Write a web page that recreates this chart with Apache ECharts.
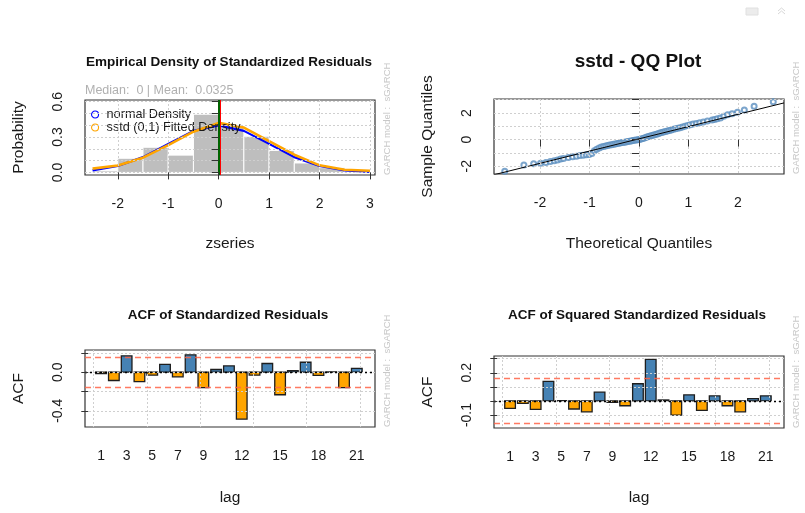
<!DOCTYPE html>
<html>
<head>
<meta charset="utf-8">
<title>GARCH fit diagnostics</title>
<script src="https://cdn.jsdelivr.net/npm/echarts@6/dist/echarts.min.js"></script>
<style>
  html, body { margin: 0; padding: 0; background: #ffffff; }
  #main { width: 805px; height: 513px; }
</style>
</head>
<body>
<div id="main"></div>
<script>
// ---- Empirical density panel ----
const histBreaks = [-2.5, -2, -1.5, -1, -0.5, 0, 0.5, 1, 1.5, 2, 2.5, 3];
const histDensity = [0.0133, 0.12, 0.2133, 0.1467, 0.4933, 0.3867, 0.3067, 0.1867, 0.08, 0.04, 0.0133];
const densityX = [-2.5, -2, -1.5, -1, -0.5, 0, 0.5, 1, 1.5, 2, 2.5, 3];
const normalDensity = [0.0175, 0.054, 0.1295, 0.242, 0.352, 0.399, 0.352, 0.242, 0.1295, 0.054, 0.0175, 0.0044];
const sstdDensity = [0.032, 0.058, 0.125, 0.232, 0.345, 0.42, 0.38, 0.265, 0.15, 0.06, 0.022, 0.014];
const residMedian = 0;
const residMean = 0.0325;
const densityXTicks = [-2, -1, 0, 1, 2, 3];
const densityYTicks = [0, 0.1, 0.2, 0.3, 0.4, 0.5, 0.6];
const densityYLabels = [0, 0.3, 0.6];

// ---- QQ plot panel ----
const qqTheoretical = [-2.713, -2.326, -2.128, -1.989, -1.881, -1.791, -1.713, -1.645, -1.583, -1.527,
  -1.428, -1.341, -1.263, -1.192, -1.126, -1.065, -1.008, -0.954, -0.903, -0.854,
  -0.806, -0.761, -0.717, -0.674, -0.633, -0.593, -0.553, -0.515, -0.477, -0.440,
  -0.403, -0.367, -0.332, -0.297, -0.262, -0.228, -0.194, -0.160, -0.126, -0.092,
  -0.058, -0.025, 0.008, 0.042, 0.075, 0.109, 0.143, 0.176, 0.210, 0.245,
  0.279, 0.314, 0.350, 0.385, 0.421, 0.458, 0.496, 0.535, 0.574, 0.613,
  0.654, 0.696, 0.739, 0.784, 0.830, 0.878, 0.928, 0.981, 1.036, 1.095,
  1.159, 1.227, 1.301, 1.383, 1.476, 1.528, 1.583, 1.645, 1.713, 1.791,
  1.881, 1.989, 2.128, 2.326, 2.713];
const qqSample = [-2.37, -1.90, -1.81, -1.77, -1.71, -1.64, -1.58, -1.52, -1.46, -1.41,
  -1.34, -1.28, -1.24, -1.20, -1.17, -1.14, -1.11, -1.05, -0.84, -0.72,
  -0.63, -0.56, -0.51, -0.47, -0.44, -0.41, -0.38, -0.35, -0.32, -0.29,
  -0.27, -0.24, -0.22, -0.19, -0.17, -0.14, -0.12, -0.10, -0.07, -0.05,
  -0.03, -0.01, 0.01, 0.05, 0.09, 0.13, 0.17, 0.21, 0.25, 0.29,
  0.33, 0.37, 0.41, 0.45, 0.49, 0.53, 0.57, 0.61, 0.65, 0.69,
  0.73, 0.77, 0.81, 0.85, 0.90, 0.95, 1.00, 1.06, 1.12, 1.17,
  1.22, 1.27, 1.33, 1.39, 1.47, 1.52, 1.57, 1.63, 1.75, 1.87,
  1.95, 2.05, 2.22, 2.50, 2.84];
const qqLineIntercept = 0.06;
const qqLineSlope = 0.92;
const qqXTicks = [-2, -1, 0, 1, 2];
const qqYTicks = [-2, -1, 0, 1, 2, 3];
const qqYLabels = [-2, 0, 2];

// ---- ACF panels ----
const lags = [1, 2, 3, 4, 5, 6, 7, 8, 9, 10, 11, 12, 13, 14, 15, 16, 17, 18, 19, 20, 21];
const acfResid = [-0.015, -0.086, 0.17, -0.097, -0.03, 0.08, -0.048, 0.18, -0.16, 0.028, 0.065,
  -0.486, -0.03, 0.09, -0.234, 0.017, 0.103, -0.034, 0.003, -0.16, 0.04];
const acfSqResid = [-0.053, -0.017, -0.06, 0.139, 0.002, -0.057, -0.077, 0.062, -0.01, -0.034, 0.122,
  0.295, 0.007, -0.10, 0.043, -0.067, 0.036, -0.034, -0.077, 0.017, 0.036];
const acfConfBound = 0.16;
const lagLabels = [1, 3, 5, 7, 9, 12, 15, 18, 21];
const lagGridLines = [0.4167, 4.5833, 8.75, 12.9167, 17.0833, 21.25];
const acfResidYTicks = [-0.4, -0.2, 0, 0.2];
const acfResidYLabels = [-0.4, 0];
const acfSqYTicks = [-0.1, 0, 0.1, 0.2, 0.3];
const acfSqYLabels = [-0.1, 0.2];

// ---- styling ----
const FONT = '"Liberation Sans", Arial, Helvetica, sans-serif';
const INK = '#1a1a1a';
const BAR_HALF = 0.4167;   // bar half-width in lag units
const dottedGrid = { show: true, lineStyle: { color: '#cfcfcf', type: [2, 2], width: 1 } };

function xAxisFor(grid, min, max, ticks, labels, name, nameGap, showTicks, fmt) {
  return {
    type: 'value', gridIndex: grid, min: min, max: max, z: 5,
    axisLine: { show: false },
    axisTick: { show: showTicks, length: 7, lineStyle: { color: '#333', width: 1 }, customValues: ticks },
    axisLabel: { customValues: labels, margin: 22, fontFamily: FONT, fontSize: 14, color: INK,
                 formatter: fmt || (v => String(v)) },
    splitLine: dottedGrid,
    name: name, nameLocation: 'middle', nameGap: nameGap,
    nameTextStyle: { fontFamily: FONT, fontSize: 15.5, color: INK }
  };
}

function yAxisFor(grid, min, max, ticks, labels, name, fmt) {
  return {
    type: 'value', gridIndex: grid, min: min, max: max, z: 5,
    axisLine: { show: false },
    axisTick: { show: true, length: 7, lineStyle: { color: '#333', width: 1 }, customValues: ticks },
    axisLabel: { customValues: labels, rotate: 90, margin: 20, fontFamily: FONT, fontSize: 14, color: INK,
                 formatter: fmt || (v => String(v)) },
    splitLine: dottedGrid,
    name: name, nameLocation: 'middle', nameGap: 58,
    nameTextStyle: { fontFamily: FONT, fontSize: 15.5, color: INK }
  };
}

const oneDecimal = v => v.toFixed(1);

// histogram rectangles from breaks + densities
const histData = histDensity.map((d, i) => [histBreaks[i], histBreaks[i + 1], d]);
function renderHist(params, api) {
  const p0 = api.coord([api.value(0), api.value(2)]);
  const p1 = api.coord([api.value(1), 0]);
  return {
    type: 'rect',
    shape: { x: p0[0], y: p0[1], width: p1[0] - p0[0], height: p1[1] - p0[1] },
    style: { fill: '#bebebe', stroke: '#ffffff', lineWidth: 1 }
  };
}

function renderAcfBar(params, api) {
  const lag = api.value(0), v = api.value(1);
  const a = api.coord([lag - BAR_HALF, v]);
  const b = api.coord([lag + BAR_HALF, 0]);
  return {
    type: 'rect',
    shape: { x: a[0], y: Math.min(a[1], b[1]), width: b[0] - a[0], height: Math.abs(b[1] - a[1]) },
    style: { fill: v > 0 ? '#4682b4' : '#ffa500', stroke: '#1e1e1e', lineWidth: 1.3 }
  };
}

function acfReferenceLines() {
  return {
    silent: true, symbol: 'none', label: { show: false }, animation: false,
    data: [
      { yAxis: acfConfBound, lineStyle: { color: '#ff6347', type: [6, 4], width: 1.3, opacity: 0.85 } },
      { yAxis: -acfConfBound, lineStyle: { color: '#ff6347', type: [6, 4], width: 1.3, opacity: 0.85 } },
      { yAxis: 0, lineStyle: { color: '#000000', type: [2, 3], width: 1.4 } }
    ]
  };
}

const qqXMin = -2.93, qqXMax = 2.93;

function watermark(x, y) {
  return {
    type: 'text', x: x, y: y, rotation: Math.PI / 2, silent: true,
    style: { text: 'GARCH model :  sGARCH', align: 'left', verticalAlign: 'middle',
             fontFamily: FONT, fontSize: 9.5, fill: '#c8c8c8' }
  };
}
function panelTitle(x, y, text, size) {
  return {
    type: 'text', x: x, y: y, silent: true,
    style: { text: text, align: 'center', verticalAlign: 'middle',
             fontFamily: FONT, fontSize: size, fontWeight: 'bold', fill: '#111' }
  };
}

const option = {
  animation: false,
  backgroundColor: '#ffffff',
  grid: [
    { left: 85, top: 100, width: 290, height: 75, show: true, borderColor: '#333', borderWidth: 1.2, backgroundColor: 'transparent' },
    { left: 494, top: 99, width: 290, height: 75, show: true, borderColor: '#333', borderWidth: 1.2, backgroundColor: 'transparent' },
    { left: 85, top: 350, width: 290, height: 77, show: true, borderColor: '#333', borderWidth: 1.2, backgroundColor: 'transparent' },
    { left: 494, top: 356, width: 290, height: 72, show: true, borderColor: '#333', borderWidth: 1.2, backgroundColor: 'transparent' }
  ],
  xAxis: [
    xAxisFor(0, -2.65, 3.10, densityXTicks, densityXTicks, 'zseries', 61, true),
    xAxisFor(1, qqXMin, qqXMax, qqXTicks, qqXTicks, 'Theoretical Quantiles', 62, true),
    xAxisFor(2, -0.257, 22.423, lagGridLines, lagLabels, 'lag', 63, false),
    xAxisFor(3, -0.257, 22.423, lagGridLines, lagLabels, 'lag', 62, false)
  ],
  yAxis: [
    yAxisFor(0, -0.022, 0.614, densityYTicks, densityYLabels, 'Probability', oneDecimal),
    yAxisFor(1, -2.58, 3.05, qqYTicks, qqYLabels, 'Sample Quantiles'),
    yAxisFor(2, -0.568, 0.23, acfResidYTicks, acfResidYLabels, 'ACF', oneDecimal),
    yAxisFor(3, -0.192, 0.319, acfSqYTicks, acfSqYLabels, 'ACF', oneDecimal)
  ],
  legend: {
    left: 91, top: 108, orient: 'vertical', itemGap: 0, itemWidth: 7, itemHeight: 7,
    icon: 'circle', selectedMode: false, padding: 0,
    textStyle: { fontFamily: FONT, fontSize: 12.7, color: INK, padding: [0, 0, 0, 3] },
    data: [
      { name: 'normal Density', itemStyle: { color: '#ffffff', borderColor: '#0000ff', borderWidth: 1.1 } },
      { name: 'sstd (0,1) Fitted Density', itemStyle: { color: '#ffffff', borderColor: '#ffa500', borderWidth: 1.1 } }
    ]
  },
  series: [
    {
      type: 'custom', name: 'histogram', xAxisIndex: 0, yAxisIndex: 0,
      renderItem: renderHist, data: histData, encode: { x: [0, 1], y: 2 }, z: 1
    },
    {
      type: 'line', name: 'normal Density', xAxisIndex: 0, yAxisIndex: 0,
      data: densityX.map((x, i) => [x, normalDensity[i]]),
      showSymbol: false, symbol: 'circle', color: '#0000ff',
      lineStyle: { color: '#0000ff', width: 2.2 }, z: 2
    },
    {
      type: 'line', name: 'sstd (0,1) Fitted Density', xAxisIndex: 0, yAxisIndex: 0,
      data: densityX.map((x, i) => [x, sstdDensity[i]]),
      showSymbol: false, symbol: 'circle', color: '#ffa500',
      lineStyle: { color: '#ffa500', width: 2.6 }, z: 3,
      markLine: {
        silent: true, symbol: 'none', label: { show: false },
        data: [
          { xAxis: residMean, lineStyle: { color: '#ff0000', type: 'solid', width: 2 } },
          { xAxis: residMedian, lineStyle: { color: '#006400', type: 'solid', width: 2 } }
        ]
      }
    },
    {
      type: 'scatter', name: 'sample quantiles', xAxisIndex: 1, yAxisIndex: 1,
      data: qqTheoretical.map((x, i) => [x, qqSample[i]]),
      symbol: 'emptyCircle', symbolSize: 5,
      itemStyle: { color: '#5b8fbf', borderColor: '#5b8fbf', borderWidth: 0.9 }, z: 2
    },
    {
      type: 'line', name: 'qq line', xAxisIndex: 1, yAxisIndex: 1,
      data: [qqXMin, qqXMax].map(x => [x, qqLineIntercept + qqLineSlope * x]),
      showSymbol: false, lineStyle: { color: '#000', width: 1 }, z: 3, clip: true
    },
    {
      type: 'custom', name: 'acf residuals', xAxisIndex: 2, yAxisIndex: 2,
      renderItem: renderAcfBar, data: lags.map((l, i) => [l, acfResid[i]]),
      encode: { x: 0, y: 1 }, markLine: acfReferenceLines(), z: 2
    },
    {
      type: 'custom', name: 'acf squared residuals', xAxisIndex: 3, yAxisIndex: 3,
      renderItem: renderAcfBar, data: lags.map((l, i) => [l, acfSqResid[i]]),
      encode: { x: 0, y: 1 }, markLine: acfReferenceLines(), z: 2
    }
  ],
  graphic: [
    panelTitle(229, 62, 'Empirical Density of Standardized Residuals', 13.5),
    {
      type: 'text', x: 85, y: 91, silent: true,
      style: { text: 'Median:  ' + residMedian + ' | Mean:  ' + residMean, align: 'left', verticalAlign: 'middle',
               fontFamily: FONT, fontSize: 12.5, fill: '#b0b0b0' }
    },
    watermark(387, 175),
    panelTitle(638, 62, 'sstd - QQ Plot', 19),
    watermark(796, 174),
    panelTitle(228, 315, 'ACF of Standardized Residuals', 13.5),
    watermark(387, 427),
    panelTitle(637, 315, 'ACF of Squared Standardized Residuals', 13.5),
    watermark(796, 428),
    // viewer toolbar glyphs in the top-right corner
    { type: 'rect', silent: true, shape: { x: 746, y: 8, width: 12, height: 7 }, style: { fill: '#ececec', stroke: '#e0e0e0', lineWidth: 1 } },
    { type: 'polyline', silent: true, shape: { points: [[778, 11], [781.5, 8], [785, 11]] }, style: { stroke: '#d8d8d8', lineWidth: 1, fill: null } },
    { type: 'polyline', silent: true, shape: { points: [[778, 14], [781.5, 11], [785, 14]] }, style: { stroke: '#d8d8d8', lineWidth: 1, fill: null } }
  ]
};

const chart = echarts.init(document.getElementById('main'), null, { renderer: 'canvas' });
chart.setOption(option);
</script>
</body>
</html>
